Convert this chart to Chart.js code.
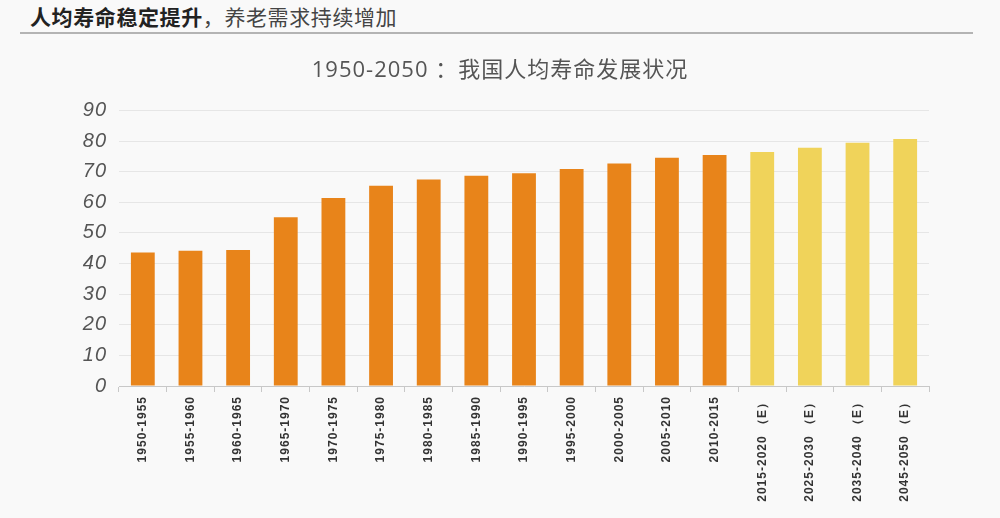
<!DOCTYPE html>
<html>
<head>
<meta charset="utf-8">
<script src="https://cdn.jsdelivr.net/npm/chart.js@4"></script>
<style>
  html, body { margin: 0; padding: 0; background: #f9f9f9; }
  #head { position: absolute; left: 30px; top: 1px; font: 21px "Noto Sans CJK SC"; color: #444; letter-spacing: 0.6px; }
  #head b { color: #222; }
  #rule { position: absolute; left: 20px; top: 32px; width: 953px; height: 0; border-top: 2px solid #b4b4b4; }
  #wrap { position: absolute; left: 0; top: 40px; width: 1000px; height: 478px; }
</style>
</head>
<body>
<div id="head"><b>人均寿命稳定提升</b>，养老需求持续增加</div>
<div id="rule"></div>
<div id="wrap"><canvas id="lifeChart"></canvas></div>
<script>
// periods, life expectancy (years), estimated periods marked (E)
const periods = ["1950-1955", "1955-1960", "1960-1965", "1965-1970", "1970-1975", "1975-1980",
  "1980-1985", "1985-1990", "1990-1995", "1995-2000", "2000-2005", "2005-2010", "2010-2015",
  "2015-2020 （E）", "2025-2030 （E）", "2035-2040 （E）", "2045-2050 （E）"];
const lifeExp = [43.6, 44.2, 44.4, 55.1, 61.4, 65.4, 67.4, 68.7, 69.5, 70.9, 72.7, 74.5, 75.4,
  76.4, 77.8, 79.4, 80.7];
const estimated = [false, false, false, false, false, false, false, false, false, false, false, false, false,
  true, true, true, true];
const yTicks = [0, 10, 20, 30, 40, 50, 60, 70, 80, 90];

const barColors = estimated.map(e => e ? "#f0d35a" : "#e8841a");

// the source chart's text is a little spaced out
const spacing = {
  id: "spacing",
  beforeDraw(chart) { chart.ctx.letterSpacing = "1px"; }
};

new Chart("lifeChart", {
  type: "bar",
  data: {
    labels: periods,
    datasets: [{
      data: lifeExp,
      backgroundColor: barColors,
      barPercentage: 0.5,
      categoryPercentage: 1
    }]
  },
  plugins: [spacing],
  options: {
    responsive: true,
    maintainAspectRatio: false,
    animation: false,
    plugins: {
      legend: { display: false },
      tooltip: { enabled: false },
      title: {
        display: true,
        text: "1950-2050 ：我国人均寿命发展状况",
        color: "#555",
        font: { family: "'Open Sans', 'Noto Sans CJK SC'", size: 22, weight: "normal" },
        padding: { top: 18, bottom: 26 }
      }
    },
    scales: {
      y: {
        min: 0,
        max: 90,
        afterFit: s => { s.width = 119; },
        afterBuildTicks: s => { s.ticks = yTicks.map(v => ({ value: v })); },
        border: { display: false },
        grid: { color: "#e6e6e6", drawTicks: false },
        ticks: {
          padding: 12,
          color: "#555",
          font: { family: "Liberation Sans", size: 20, style: "italic" }
        }
      },
      // empty right-hand margin, keeps the title centred on the page
      yRight: {
        position: "right",
        min: 0,
        max: 90,
        afterFit: s => { s.width = 71; },
        border: { display: false },
        grid: { display: false },
        ticks: { display: false }
      },
      x: {
        afterFit: s => { s.height = 132; },
        border: { color: "#c8c8c8" },
        grid: { drawOnChartArea: false, color: "#c8c8c8", tickLength: 6, offset: true },
        ticks: {
          minRotation: 90,
          maxRotation: 90,
          autoSkip: false,
          padding: 4,
          color: "#333",
          font: { family: "Liberation Sans", size: 12, weight: "bold" }
        }
      }
    }
  }
});
</script>
</body>
</html>
